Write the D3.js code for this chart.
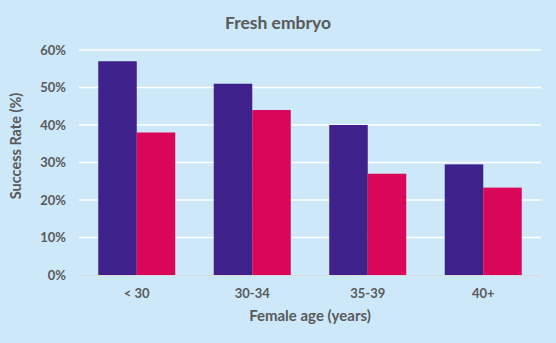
<!DOCTYPE html>
<html>
<head>
<meta charset="utf-8">
<script src="https://d3js.org/d3.v7.min.js"></script>
<style>
  body { margin: 0; background: #cce8f9; }
  svg { display: block; font-family: Lato, "Open Sans", sans-serif; }
</style>
</head>
<body>
<div id="chart"></div>
<script>
var ageGroups = ['< 30', '30-34', '35-39', '40+'];
var seriesA = [57, 51, 40, 29.5];
var seriesB = [38, 44, 27, 23.3];
var yTicks = [0, 10, 20, 30, 40, 50, 60];

var width = 556, height = 343;
var margin = {top: 50, right: 15, bottom: 68, left: 79};
var innerW = width - margin.left - margin.right,
    innerH = height - margin.top - margin.bottom;

var textColor = '#595959';

var svg = d3.select('#chart').append('svg')
  .attr('width', width)
  .attr('height', height);

svg.append('rect')
  .attr('width', width).attr('height', height)
  .attr('fill', '#cce8f9');

var g = svg.append('g')
  .attr('transform', 'translate(' + margin.left + ',' + margin.top + ')');

var x = d3.scaleBand()
  .domain(ageGroups)
  .range([0, innerW])
  .paddingInner(1 / 3)
  .paddingOuter(1 / 6);

var y = d3.scaleLinear()
  .domain([0, 60])
  .range([innerH, 0]);

// gridlines
g.selectAll('.grid')
  .data(yTicks.filter(function (d) { return d > 0; }))
  .enter().append('line')
  .attr('x1', 0).attr('x2', innerW)
  .attr('y1', function (d) { return y(d); })
  .attr('y2', function (d) { return y(d); })
  .attr('stroke', '#ffffff')
  .attr('stroke-width', 1.5);

var half = x.bandwidth() / 2;

g.selectAll('.barA')
  .data(seriesA)
  .enter().append('rect')
  .attr('x', function (d, i) { return x(ageGroups[i]); })
  .attr('y', function (d) { return y(d); })
  .attr('width', half)
  .attr('height', function (d) { return innerH - y(d); })
  .attr('fill', '#3f218b');

g.selectAll('.barB')
  .data(seriesB)
  .enter().append('rect')
  .attr('x', function (d, i) { return x(ageGroups[i]) + half; })
  .attr('y', function (d) { return y(d); })
  .attr('width', half)
  .attr('height', function (d) { return innerH - y(d); })
  .attr('fill', '#d9065a');

// x axis line
g.append('line')
  .attr('x1', 0).attr('x2', innerW)
  .attr('y1', innerH + 0.5).attr('y2', innerH + 0.5)
  .attr('stroke', '#d9d9d9')
  .attr('stroke-width', 1);

// y axis labels
var yAxis = d3.axisLeft(y)
  .tickValues(yTicks)
  .tickSize(0)
  .tickPadding(13)
  .tickFormat(function (d) { return d + '%'; });

var ya = g.append('g').call(yAxis);
ya.select('.domain').remove();
ya.selectAll('text')
  .attr('fill', textColor)
  .attr('font-size', 13)
  .attr('font-weight', 'bold')
  .attr('font-family', 'Lato, sans-serif');

// x axis labels
var xAxis = d3.axisBottom(x).tickSize(0).tickPadding(14);
var xa = g.append('g')
  .attr('transform', 'translate(0,' + innerH + ')')
  .call(xAxis);
xa.select('.domain').remove();
xa.selectAll('text')
  .attr('fill', textColor)
  .attr('font-size', 13)
  .attr('font-weight', 'bold')
  .attr('font-family', 'Lato, sans-serif');

// titles
svg.append('text')
  .attr('x', 278).attr('y', 29)
  .attr('text-anchor', 'middle')
  .attr('fill', textColor)
  .attr('font-size', 17.5)
  .attr('font-weight', 'bold')
  .text('Fresh embryo');

svg.append('text')
  .attr('x', margin.left + innerW / 2).attr('y', 321)
  .attr('text-anchor', 'middle')
  .attr('fill', textColor)
  .attr('font-size', 15)
  .attr('font-weight', 'bold')
  .text('Female age (years)');

svg.append('text')
  .attr('transform', 'translate(21,146) rotate(-90)')
  .attr('text-anchor', 'middle')
  .attr('fill', textColor)
  .attr('font-size', 14.5)
  .attr('font-weight', 'bold')
  .text('Success Rate (%)');
</script>
</body>
</html>
